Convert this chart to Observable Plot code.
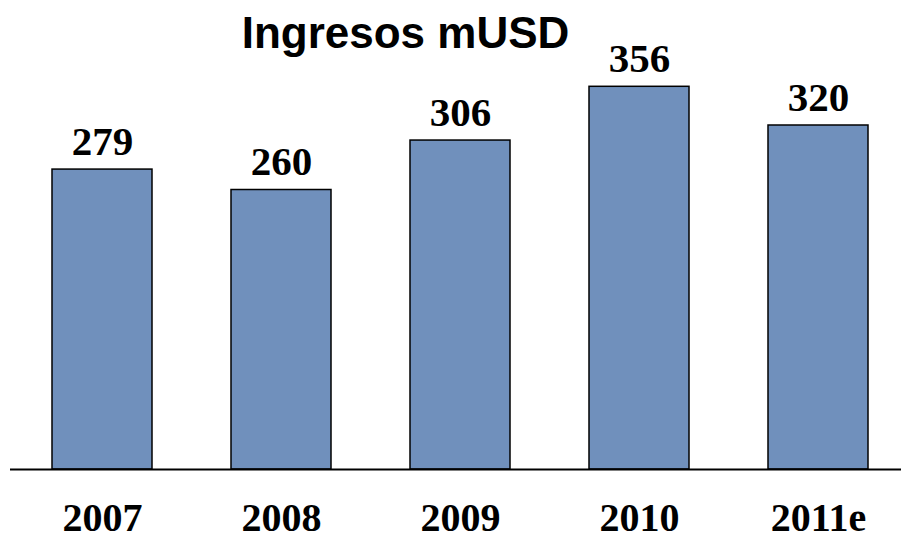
<!DOCTYPE html>
<html>
<head>
<meta charset="utf-8">
<script src="https://cdn.jsdelivr.net/npm/d3@7"></script>
<script src="https://cdn.jsdelivr.net/npm/@observablehq/plot@0.6"></script>
<style>
  html, body { margin: 0; padding: 0; background: #fff; }
</style>
</head>
<body>
<div id="chart"></div>
<script>
const title = "Ingresos mUSD";
const years = ["2007", "2008", "2009", "2010", "2011e"];
const ingresos = [279, 260, 306, 356, 320];

const data = years.map((y, i) => ({year: y, value: ingresos[i]}));

const chart = Plot.plot({
  width: 901,
  height: 535,
  marginLeft: 20,
  marginRight: 0,
  marginTop: 39,
  marginBottom: 66,
  style: {background: "#fff", overflow: "visible"},
  x: {domain: years, paddingInner: 0.44, paddingOuter: 0.18, label: null},
  y: {domain: [0, 400], axis: null},
  marks: [
    Plot.barY(data, {x: "year", y: "value", fill: "#7090BC", stroke: "#000", strokeWidth: 1.5}),
    Plot.ruleY([0], {stroke: "#000", strokeWidth: 2, insetLeft: -10}),
    Plot.text(data, {x: "year", y: "value", text: d => String(d.value), dy: -15, lineAnchor: "bottom",
      fontFamily: "Liberation Serif, Times New Roman, serif", fontWeight: "bold", fontSize: 41, fill: "#000"}),
    Plot.axisX({tickSize: 0, tickPadding: 33, fontFamily: "Liberation Serif, Times New Roman, serif",
      fontWeight: "bold", fontSize: 40, fill: "#000", label: null}),
    Plot.text([title], {frameAnchor: "top", dx: -55.5, dy: 8, lineAnchor: "bottom",
      fontFamily: "Liberation Sans, Arial, sans-serif", fontWeight: "bold", fontSize: 44, fill: "#000"})
  ]
});
document.getElementById("chart").appendChild(chart);
</script>
</body>
</html>
